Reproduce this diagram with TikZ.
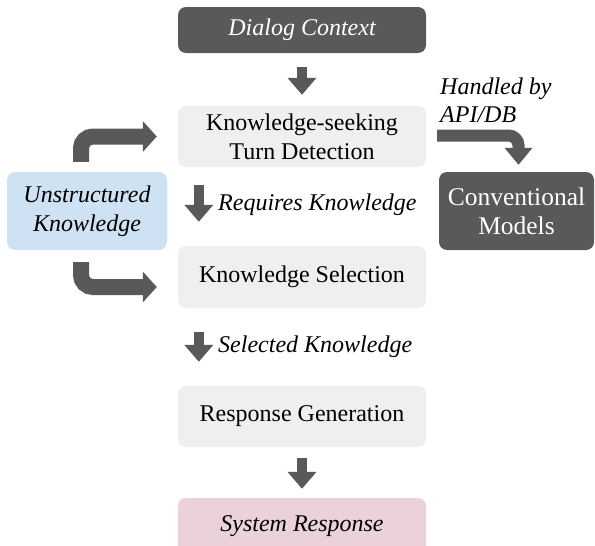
\documentclass[tikz,border=0pt]{standalone}
\usepackage{fontspec}
\setmainfont{Liberation Serif}
\usetikzlibrary{arrows.meta}
\definecolor{dk}{HTML}{595959}
\definecolor{lg}{HTML}{EFEFEF}
\definecolor{lb}{HTML}{CFE2F3}
\definecolor{pk}{HTML}{EAD1DC}
\begin{document}
\begin{tikzpicture}[x=1pt,y=-1pt,
  box/.style={rounded corners=8pt, inner sep=0pt, align=center, font=\fontsize{24}{29}\selectfont},
  darkbox/.style={box, fill=dk, text=white},
  lightbox/.style={box, fill=lg, text=black, minimum width=248pt},
  lbl/.style={inner sep=0pt, font=\fontsize{24}{29}\selectfont\itshape, anchor=west},
  downarr/.style={draw=dk, line width=10pt, -{Triangle[width=28pt,length=17pt]}},
  sidearr/.style={draw=dk, line width=16pt, rounded corners=12pt, -{Triangle[width=30pt,length=14pt]}},
  rightarr/.style={draw=dk, line width=12pt, rounded corners=10pt, -{Triangle[width=27pt,length=17pt]}}
]
\useasboundingbox (0,0) rectangle (595,546);
\fill[white] (0,0) rectangle (595,546);

\node[darkbox, minimum width=248pt, minimum height=46pt, font=\fontsize{24}{29}\selectfont\itshape] (dc) at (302,30) {Dialog Context};
\node[lightbox, minimum height=61pt] (ks) at (302,136.5) {Knowledge-seeking\\Turn Detection};
\node[lightbox, minimum height=62pt] (sel) at (302,277) {Knowledge Selection};
\node[lightbox, minimum height=61pt] (rg) at (302,416.5) {Response Generation};
\node[box, fill=pk, minimum width=248pt, minimum height=56pt, font=\fontsize{24}{29}\selectfont\itshape] (sr) at (302,526) {System Response};
\node[box, fill=lb, minimum width=160pt, minimum height=78pt, font=\fontsize{24}{29}\selectfont\itshape] (uk) at (87,211) {Unstructured\\Knowledge};
\node[darkbox, minimum width=155pt, minimum height=78pt, font=\fontsize{25.5}{29}\selectfont] (cm) at (516.5,211) {Conventional\\Models};

\node[lbl] (req) at (218,205) {Requires Knowledge};
\node[lbl] (selk) at (218,347) {Selected Knowledge};
\node[inner sep=0pt, anchor=north west, align=left, font=\fontsize{24}{28}\selectfont\itshape] (api) at (440,77.5) {Handled by\\API/DB};

\draw[downarr] ([yshift=-14pt]dc.south) -- ([yshift=11pt]ks.north);
\draw[downarr] ([xshift=21pt,yshift=-18pt]ks.south west) -- ([xshift=21pt,yshift=24pt]sel.north west);
\draw[downarr] ([xshift=21pt,yshift=-24pt]sel.south west) -- ([xshift=21pt,yshift=24pt]rg.north west);
\draw[downarr] ([yshift=-11pt]rg.south) -- ([yshift=9pt]sr.north);

\draw[sidearr] ([xshift=-6pt,yshift=10pt]uk.north) |- ([xshift=-21pt]ks.west);
\draw[sidearr] ([xshift=-6pt,yshift=-12pt]uk.south) |- ([xshift=-21pt,yshift=-10pt]sel.west);
\draw[rightarr] ([xshift=11pt,yshift=1pt]ks.east) -| ([xshift=2pt,yshift=7pt]cm.north);
\end{tikzpicture}
\end{document}
